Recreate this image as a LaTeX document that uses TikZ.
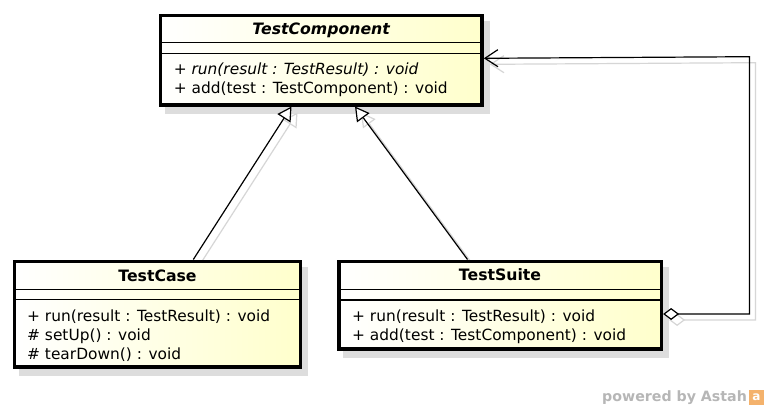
\documentclass[tikz,border=0pt]{standalone}
\usepackage{fontspec}
\setmainfont{DejaVu Sans}
\usetikzlibrary{arrows.meta,backgrounds,calc}
\definecolor{classyel}{RGB}{255,255,204}
\definecolor{shadowgray}{RGB}{221,221,221}
\definecolor{lineshadow}{RGB}{214,214,214}
\definecolor{wmgray}{RGB}{182,182,182}
\definecolor{logoorange}{RGB}{244,178,108}
\begin{document}
\begin{tikzpicture}[x=1pt,y=-1pt,
  classbox/.style={draw=black, line width=3.6pt, left color=white, right color=classyel, inner sep=0pt, outer sep=1.8pt},
  sepline/.style={line width=1.3pt},
  member/.style={anchor=base west, inner sep=0pt, font=\fontsize{15.4}{19}\selectfont},
  classtitle/.style={anchor=base, inner sep=0pt, font=\bfseries\fontsize{15.7}{19}\selectfont},
  conn/.style={line width=1.2pt},
  gen/.style={conn, -{Triangle[fill=white, length=14pt, width=15.5pt]}},
  genshadow/.style={conn, draw=lineshadow, -{Triangle[open, length=14pt, width=15.5pt]}},
  agg/.style={conn, {Diamond[fill=white, length=16pt, width=12pt]}-{Straight Barb[length=13pt, width=17pt]}},
  aggshadow/.style={conn, draw=lineshadow, {Diamond[open, length=16pt, width=12pt]}-{Straight Barb[length=13pt, width=17pt]}},
  shadowshift/.style={transform canvas={xshift=6pt, yshift=-6pt}}
]
\useasboundingbox (0,0) rectangle (770,410);

% class boxes
\node[classbox, minimum width=321.7pt, minimum height=89.4pt] (comp) at (321.15,60) {};
\node[classbox, minimum width=286pt, minimum height=105.9pt] (case) at (157.5,314.25) {};
\node[classbox, minimum width=322.5pt, minimum height=87.5pt] (suite) at (500.05,305.05) {};

% compartments
\draw[sepline] (160.3,42.3) -- (482,42.3);
\draw[sepline] (160.3,53.3) -- (482,53.3);
\draw[sepline] (14.5,289.3) -- (300.5,289.3);
\draw[sepline] (14.5,299.3) -- (300.5,299.3);
\draw[sepline] (338.8,289.3) -- (661.3,289.3);
\draw[sepline] (338.8,300) -- (661.3,300);

% titles
\node[classtitle, font=\bfseries\itshape\fontsize{15.7}{19}\selectfont] (compname) at (321.15,34.5) {TestComponent};
\node[classtitle] (casename) at (157.5,281) {TestCase};
\node[classtitle] (suitename) at (500.05,280.8) {TestSuite};

% members
\node[member, font=\itshape\fontsize{15.4}{19}\selectfont] (comp1) at (173.6,74) {+ run(result : TestResult) : void};
\node[member] (comp2) at (173.6,93) {+ add(test : TestComponent) : void};
\node[member] (case1) at (27,321) {+ run(result : TestResult) : void};
\node[member] (case2) at (27,340) {\# setUp() : void};
\node[member] (case3) at (27,359.3) {\# tearDown() : void};
\node[member] (suite1) at (352,321) {+ run(result : TestResult) : void};
\node[member] (suite2) at (352,340) {+ add(test : TestComponent) : void};

% connector helper coordinates
\coordinate (c1) at (193.3,0);
\coordinate (c2) at (291.5,0);
\coordinate (c3) at (467.5,0);
\coordinate (c4) at (355,0);
\coordinate (k1) at (749.5,314);
\coordinate (k2) at (749.5,56.7);
\coordinate (c6) at (0,58.3);

% connectors
\draw[gen] (case.north -| c1) -- (comp.south -| c2);
\draw[gen] (suite.north -| c3) -- (comp.south -| c4);
\draw[agg] (suite.east |- k1) -- (k1) -- (k2) -- (comp.east |- c6);

% watermark
\node[anchor=base west, inner sep=0pt, text=wmgray, font=\bfseries\fontsize{14.2}{16}\selectfont] (wm) at (602,401.7) {powered by Astah};
\node[fill=logoorange, text=white, inner sep=0pt, minimum width=15pt, minimum height=15pt, font=\bfseries\fontsize{12}{12}\selectfont] (logo) at (756.5,397.5) {a};

% shadows
\begin{scope}[on background layer]
  \fill[white] (0,0) rectangle (770,410);
  \foreach \n in {comp,case,suite}
    \fill[shadowgray] ($(\n.north west)+(6,7)$) rectangle ($(\n.south east)+(6,7)$);
  \begin{scope}[shadowshift]
    \draw[genshadow] (case.north -| c1) -- (comp.south -| c2);
    \draw[genshadow] (suite.north -| c3) -- (comp.south -| c4);
    \draw[aggshadow] (suite.east |- k1) -- (k1) -- (k2) -- (comp.east |- c6);
  \end{scope}
\end{scope}
\end{tikzpicture}
\end{document}
